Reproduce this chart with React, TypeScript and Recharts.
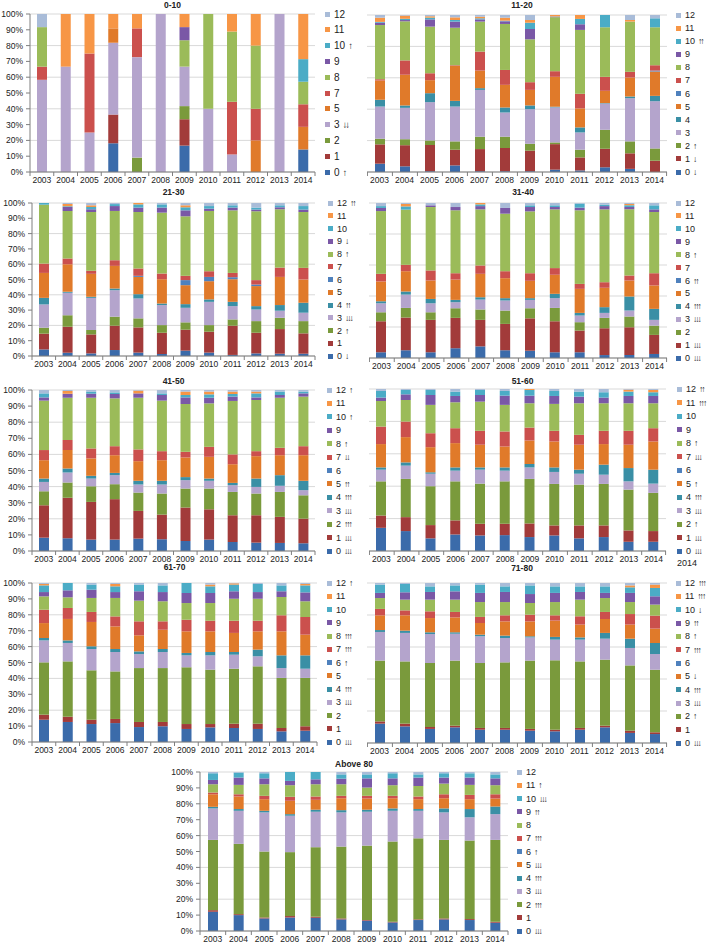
import React from 'react';
import { BarChart, Bar, XAxis, YAxis, CartesianGrid } from 'recharts';

// Years on the x axis
const years = ['2003', '2004', '2005', '2006', '2007', '2008', '2009', '2010', '2011', '2012', '2013', '2014'];

// Categories 0..12, bottom of the stack first
const categoryKeys = ['c0', 'c1', 'c2', 'c3', 'c4', 'c5', 'c6', 'c7', 'c8', 'c9', 'c10', 'c11', 'c12'];
const colors = ['#3B6BAA', '#A23B3A', '#7A9A3C', '#B4A4CC', '#3A8FA5', '#E07A2A', '#4F81BD', '#CB504D', '#9BBB59', '#7A58A6', '#4BACC6', '#F79646', '#A9BCD8'];
const yTicks = [0, 0.1, 0.2, 0.3, 0.4, 0.5, 0.6, 0.7, 0.8, 0.9, 1];

// Share (%) per year, one row per year, columns = categories 0..12
const shares0to10 = [
    [0, 0, 0, 58.3, 0, 0, 0, 8.3, 25, 0, 0, 0, 8.3],
    [0, 0, 0, 66.7, 0, 0, 0, 0, 0, 0, 0, 33.3, 0],
    [0, 0, 0, 25, 0, 0, 0, 50, 0, 0, 0, 25, 0],
    [18.2, 18.2, 0, 45.5, 0, 9.1, 0, 0, 0, 0, 0, 9.1, 0],
    [0, 0, 9.1, 63.6, 0, 0, 0, 18.2, 0, 0, 0, 9.1, 0],
    [0, 0, 0, 100, 0, 0, 0, 0, 0, 0, 0, 0, 0],
    [16.7, 16.7, 8.3, 25, 0, 0, 0, 0, 16.7, 8.3, 0, 8.3, 0],
    [0, 0, 0, 40, 0, 0, 0, 0, 60, 0, 0, 0, 0],
    [0, 0, 0, 11.1, 0, 0, 0, 33.3, 44.4, 0, 0, 11.1, 0],
    [0, 0, 0, 0, 0, 20, 0, 20, 40, 0, 0, 20, 0],
    [0, 0, 0, 100, 0, 0, 0, 0, 0, 0, 0, 0, 0],
    [14.3, 0, 0, 0, 0, 14.3, 0, 14.3, 14.3, 0, 14.3, 28.6, 0],
];

const shares11to20 = [
    [5.3, 12.3, 3.6, 20.5, 4.3, 12.3, 0, 0.8, 34.5, 1.5, 0.5, 2.7, 1.7],
    [3.6, 13.4, 3.8, 19.9, 1.5, 19.5, 0, 9.1, 24.8, 0.8, 0.8, 2.0, 0.4],
    [0.5, 16.7, 2.9, 24.4, 5.7, 8.3, 0, 4.4, 29.7, 4.6, 1.1, 0.9, 0.8],
    [4.2, 10, 5.3, 22.2, 3.6, 22.3, 0, 0.4, 23.9, 3.9, 1.0, 1.7, 1.5],
    [0.5, 14.1, 7.9, 29.8, 1.1, 11.2, 0, 12.1, 19.1, 1.4, 0.7, 1.0, 1.1],
    [0.5, 14.8, 7.2, 15.4, 3.2, 14.4, 0, 9.5, 29.3, 1.7, 0.4, 1.9, 1.7],
    [0.5, 13.1, 4.4, 22, 2.4, 9.9, 0, 4.9, 27.3, 6.6, 4, 1.7, 3.2],
    [1.5, 16.3, 1.1, 22.4, 0.4, 19.1, 0, 3.6, 34.5, 0.3, 0.2, 0.9, 0],
    [1, 8.3, 4.9, 11, 3.2, 12.1, 0, 9.3, 40.7, 3.6, 3.4, 2.5, 0],
    [3, 11.8, 12.1, 16.7, 0.3, 7.8, 0, 8.9, 31.6, 0, 7.8, 0, 0],
    [2, 9.9, 7.6, 27.5, 1.1, 12.1, 0, 3.6, 32, 0, 0, 1, 3.2],
    [0, 7.2, 7.8, 30.1, 3.4, 15.5, 0.6, 3.4, 24.2, 0, 5.7, 0, 2.1],
];

const shares21to30 = [
    [4.3, 10.3, 3.9, 15.2, 4.3, 16.3, 0, 6.1, 38.5, 0, 1.1, 0, 0],
    [2.2, 16.9, 7.6, 14.6, 0.7, 18, 0, 3.7, 31.1, 2.6, 0.5, 1.4, 0.7],
    [1.7, 12.4, 2.9, 21, 0.7, 15, 0, 2, 38.4, 1.8, 1.5, 1.1, 1.5],
    [3.9, 15.9, 5.9, 17.3, 1.1, 14.8, 0, 3.7, 32.2, 3.2, 1.3, 0, 0.7],
    [2.2, 16.5, 5.9, 13, 2.8, 11.3, 0.7, 4.8, 36.9, 2.9, 2.1, 0.9, 0],
    [1.3, 13.9, 5, 13.1, 1, 15.9, 0, 3.7, 39.8, 3.3, 2.1, 0, 0.9],
    [3.5, 13.7, 4.8, 9.5, 2.4, 12.4, 3.3, 2.8, 38.9, 3.9, 2, 1.3, 1.5],
    [2.2, 13.7, 4.3, 15.2, 1.6, 11.9, 2.8, 3.7, 39.4, 1.5, 1.7, 0, 2],
    [0.7, 19.1, 4.1, 8.7, 2.8, 14.8, 1.3, 2.8, 40.9, 1.8, 1.5, 0, 1.5],
    [1.7, 13.5, 7.6, 7.6, 2.2, 13.1, 1, 2.9, 45, 1.1, 1.3, 0, 3],
    [1.5, 16.1, 7.4, 4.6, 3.7, 18.4, 0, 6.1, 38.1, 1.3, 1.3, 0, 1.5],
    [1.5, 13.3, 8, 5.5, 6.5, 15.2, 0, 7.6, 36.5, 1.6, 2.3, 0, 2],
];

const shares31to40 = [
    [3.7, 20, 5.8, 5.8, 1.3, 12.8, 0, 4.9, 40.5, 2, 1.2, 0, 2],
    [5, 21.1, 6.2, 8.6, 2, 13.1, 0, 4.1, 35.6, 0, 2.1, 1.6, 0.6],
    [3.7, 20.9, 4.9, 5.8, 2.8, 11.9, 0, 6.5, 40.9, 1.1, 0, 0, 1.5],
    [6.3, 19.6, 6.2, 3.9, 1.5, 13.1, 0, 4.1, 40.6, 2.1, 0, 0, 2.6],
    [7.5, 17.1, 6.7, 6.4, 1.5, 15.1, 0, 5.4, 36.2, 2.1, 1.1, 0.9, 0],
    [5, 17, 8.6, 6.5, 1.5, 12.9, 0, 4.5, 37.1, 3.7, 0, 0, 3.2],
    [4.7, 20.9, 6.5, 5.4, 1.1, 11.2, 0, 4.9, 39.9, 2.8, 1.1, 0, 1.5],
    [3.7, 20, 8.6, 6.3, 2.8, 12.3, 0, 4.3, 37.9, 1.5, 1.1, 0, 1.5],
    [3.7, 14, 5.4, 4.3, 1.7, 15.5, 0, 3.2, 47.5, 1.7, 2.6, 0, 0.4],
    [1.9, 17.3, 6.7, 3.2, 3.7, 12.5, 0, 3.6, 47, 2.1, 0.9, 0, 1.1],
    [1.9, 17.9, 6.9, 3.9, 9.1, 10.3, 0, 3.2, 42.7, 1.5, 1.1, 0.9, 0.6],
    [2.6, 12.3, 6, 3.7, 7.1, 15.1, 0, 7.9, 39.5, 1.7, 2.6, 0, 1.5],
];

const shares41to50 = [
    [8.3, 20.1, 8.7, 5.8, 2.1, 11.4, 0, 6.3, 30.7, 2, 2.5, 0, 2.1],
    [7.9, 25.1, 9.5, 6.3, 2.4, 11.5, 0, 6.2, 26.3, 2.5, 0, 1.7, 0.6],
    [7.1, 23.4, 9.7, 4.8, 1.7, 10.8, 0, 6.2, 31.5, 2.5, 1.3, 0, 1],
    [7.1, 25.1, 9.3, 5.6, 1.4, 11, 0, 5.6, 29.7, 2.7, 1, 0, 1.5],
    [7.7, 17.2, 11.4, 5, 2.3, 12.2, 0, 7.3, 32.1, 2.7, 0, 1.7, 0.4],
    [7.3, 15.3, 13.1, 5.6, 2.3, 12.8, 0, 5.6, 31.4, 3.5, 1, 0, 2.1],
    [6.2, 20.8, 11.8, 5.2, 1.9, 12.2, 0, 3.5, 29.7, 4.1, 1.5, 2.1, 1],
    [7.1, 18.8, 12.9, 4.8, 1.4, 13.5, 0, 6.2, 27, 3.5, 2.1, 1.7, 1],
    [5.6, 16.6, 14.5, 4.2, 1.4, 11.6, 0, 6.1, 33.2, 2.7, 1.6, 1.5, 1],
    [5.2, 17, 13.5, 4.1, 5.2, 13.9, 0, 3.1, 31.8, 1.6, 2.5, 1.1, 1],
    [5, 16.2, 15.5, 3.8, 6.6, 12.4, 0, 4.6, 31.1, 1.7, 2.1, 0, 1],
    [4.8, 15.3, 14.5, 3.2, 5.8, 15.9, 0, 5.6, 30.8, 2, 1.1, 0, 1],
];

const shares51to60 = [
    [14.3, 7.6, 21.1, 7.2, 1.4, 14.4, 0, 10.8, 15.8, 2.1, 4.1, 0, 1.2],
    [12.3, 8.6, 23.6, 8.2, 2, 15.6, 0, 9.6, 13.3, 3.5, 2.7, 0, 0.6],
    [7.8, 8.2, 24, 7.7, 0.9, 15.5, 0, 8.6, 17.5, 6.1, 3.1, 0, 0.6],
    [10.2, 8.7, 24.1, 6.6, 2, 15, 0, 9.2, 16, 3.9, 2.7, 0, 1.6],
    [9.6, 7.2, 24.8, 8.6, 1.4, 14, 0, 8.6, 18, 4.1, 3.1, 0, 0.6],
    [9.8, 7, 26.2, 6.6, 2, 12.9, 0, 9.3, 16.4, 5.7, 2.9, 0, 1.2],
    [8.6, 8.4, 27.5, 7.1, 2.1, 14.5, 0, 8, 15, 4.7, 3.5, 0.6, 0],
    [9.6, 6.2, 25.6, 7.4, 2.8, 16, 0, 6.6, 16.6, 4.9, 3.1, 0, 1.2],
    [7.8, 8, 25.2, 6.7, 2.5, 15.4, 0, 6.1, 19.5, 4.1, 3.1, 0, 1.6],
    [8.6, 7.2, 25.6, 5.7, 6.2, 12.7, 0, 8.2, 17, 3.5, 3.3, 0, 2],
    [5.7, 7, 25.2, 5.1, 8.2, 14.4, 0, 8.6, 17, 4.5, 2.7, 1.2, 0.4],
    [5.7, 6.6, 23.6, 5.7, 8.6, 17.4, 0, 8.2, 15.4, 4.5, 2.3, 1.4, 0.6],
];

const shares61to70 = [
    [14, 3.2, 32.9, 13.8, 1.5, 9.4, 0, 8.4, 8.4, 2.7, 4.2, 0.9, 0.6],
    [12.6, 3.3, 34.8, 11.6, 1.6, 13.5, 0, 6.9, 6.7, 4.4, 4.6, 0, 0],
    [11.3, 2.7, 31.1, 13.4, 1.7, 15.3, 0, 6.3, 8.8, 5.2, 3.2, 0, 1],
    [11.9, 2.6, 29.9, 12.2, 1.9, 14.2, 0, 6.3, 11.6, 3.7, 3.6, 1.5, 0.6],
    [9.4, 3.2, 33.9, 8.8, 1.7, 10.1, 0, 8.8, 13, 5.9, 4.2, 0, 1],
    [9.9, 2.7, 33.9, 10.1, 1.9, 12.1, 0, 5.3, 12.6, 5.8, 4.2, 0, 1.5],
    [8.2, 3.1, 35.7, 7.5, 1.5, 13.6, 0, 7.3, 10.5, 6.3, 6.3, 0, 0],
    [9.2, 2.1, 34.2, 9, 2.1, 13, 0, 6.7, 11.1, 6.3, 4.2, 1.1, 1],
    [8.8, 2.7, 34.6, 8.8, 1.7, 12, 0, 7.7, 13.8, 4.7, 4.2, 0.8, 0.2],
    [8.2, 3.3, 36.1, 6.3, 4.2, 11.5, 0, 6.7, 13.8, 4.2, 5.1, 0, 0.6],
    [6.7, 2.1, 31.5, 6.2, 8, 15.1, 0, 10.1, 11.5, 3.6, 3.7, 0, 1.5],
    [7.1, 2.8, 30.4, 5.8, 8.4, 13, 0, 11.1, 9.9, 5.6, 4.4, 0.9, 0.6],
];

const shares71to80 = [
    [12.1, 1.4, 38, 17.9, 1.2, 9.2, 0, 4, 6.8, 3.2, 5.2, 0, 1],
    [10.4, 1.7, 38.9, 17.8, 1.4, 9.6, 0, 3.1, 6.7, 4.6, 5.2, 0, 0.6],
    [8.8, 1.2, 40, 18.1, 1.1, 8.9, 0, 4.2, 7.3, 4.8, 3.5, 0, 2.1],
    [9.8, 1, 40.7, 16.8, 0.9, 9.3, 0, 3.4, 7.7, 5.2, 3.7, 0, 1.5],
    [8.3, 1.1, 40.6, 16.7, 1, 7.3, 0, 3.8, 9.3, 5.7, 5.2, 0, 1],
    [8.3, 1.1, 41, 15.2, 1.5, 8.9, 0, 3.8, 8.3, 6.3, 3.5, 0, 2.1],
    [7.7, 1.1, 42.7, 14.5, 0.7, 9.3, 0, 4.2, 7.3, 5.6, 5.4, 0, 1.5],
    [7.3, 1, 43.4, 12.9, 1.7, 10.2, 0, 3.3, 8.3, 5.7, 4.1, 0, 2.1],
    [8.3, 1.1, 41.6, 13.6, 1.4, 8, 0, 5.2, 10.4, 4.8, 3.5, 0, 2.1],
    [9.8, 1, 41.3, 13.1, 3.6, 8.7, 0, 4.4, 8.7, 3.2, 4.1, 0, 2.1],
    [6.3, 1.4, 40.8, 10.9, 5.8, 8.8, 0, 6.6, 7.5, 5.7, 3.5, 1.2, 1.5],
    [5.6, 1.1, 39.1, 9.8, 6.9, 9, 0, 8.1, 6.9, 5.2, 5.2, 2.1, 1],
];

const sharesAbove80 = [
    [12.1, 1, 44.2, 19.8, 1, 7.9, 0, 1.1, 5.2, 2.7, 4.2, 0, 0.8],
    [10, 0.6, 44.2, 20.8, 1.1, 7.9, 0, 1.4, 5.9, 4.6, 3.1, 0, 0.4],
    [7.9, 0.6, 41.5, 24.6, 1, 7.3, 0, 2.1, 7.3, 3.7, 3.2, 0, 0.8],
    [8.5, 0.9, 40.2, 22.9, 1, 8.4, 0, 2.5, 7.3, 2.7, 5.6, 0, 0],
    [8.3, 0.7, 43.7, 22.3, 1.3, 6.2, 0, 2.1, 7.7, 3.1, 4.6, 0, 0],
    [7.3, 0.6, 45.2, 21.5, 1.4, 7.5, 0, 1.5, 7.3, 3.5, 2.7, 0, 1.5],
    [6.5, 0.4, 46.8, 21.3, 1.3, 7, 0, 1.7, 5.2, 5.8, 2.5, 0, 1.5],
    [5.4, 0.4, 50.5, 19.3, 1.5, 6.4, 0, 1.5, 6.7, 4.3, 3.2, 0, 0.8],
    [6.9, 0.4, 51, 17.3, 1.1, 6.2, 0, 1.7, 6.6, 5.3, 2, 0, 1.5],
    [7.3, 0.6, 49.4, 17.3, 2.5, 6.4, 0, 2.5, 6.7, 3.8, 2.7, 0, 0.8],
    [6.9, 0.6, 49.4, 14.6, 5.2, 6.2, 0, 2.7, 6.3, 4.6, 2.7, 0, 0.8],
    [5.2, 0.6, 51.5, 16.2, 4.8, 5, 0, 2.7, 5.7, 4.3, 2.5, 0, 1.5],
];

// Legend labels per panel, indexed by category 0..12 (null = not in legend)
const legend0to10 = ['0 ↑', '1', '2', '3 ↓↓', null, '5', null, '7', '8', '9', '10 ↑', '11', '12'];
const legend11to20 = ['0 ↓', '1 ↓', '2 ↑', '3', '4', '5', '6', '7', '8', '9', '10 ↑↑', '11', '12'];
const legend21to30 = ['0 ↓', '1', '2 ↑', '3 ↓↓↓', '4 ↑↑', '5', '6', '7', '8 ↑', '9 ↓', '10', '11', '12 ↑↑'];
const legend31to40 = ['0 ↓↓↓', '1 ↓↓↓', '2', '3 ↓↓↓', '4 ↑↑↑', '5', '6 ↑↑', '7', '8 ↑', '9', '10', '11', '12'];
const legend41to50 = ['0 ↓↓↓', '1 ↓↓↓', '2 ↑↑↑', '3 ↓↓↓', '4 ↑↑↑', '5 ↑↑', '6', '7 ↓↓', '8 ↑', '9', '10 ↑', '11', '12 ↑'];
const legend51to60 = ['0 ↓↓↓', '1 ↓↓↓', '2 ↑', '3 ↓↓↓', '4 ↑↑↑', '5 ↑', '6', '7 ↓↓↓', '8 ↑', '9', '10', '11 ↑↑↑', '12 ↑↑'];
const legend61to70 = ['0 ↓↓↓', '1', '2', '3 ↓↓↓', '4 ↑↑↑', '5', '6 ↑', '7 ↑↑↑', '8 ↑↑↑', '9', '10', '11', '12 ↑'];
const legend71to80 = ['0 ↓↓↓', '1', '2 ↑', '3 ↓↓↓', '4 ↑↑↑', '5 ↓', '6', '7 ↑↑↑', '8 ↑', '9 ↑↑', '10 ↓', '11 ↑↑↑', '12 ↑↑↑'];
const legendAbove80 = ['0 ↓↓↓', '1', '2 ↑↑↑', '3 ↓↓↓', '4 ↑↑↑', '5 ↓↓↓', '6 ↑', '7 ↑↑↑', '8', '9 ↑↑', '10 ↓↓↓', '11 ↑', '12'];

const font = '"Liberation Sans", Arial, sans-serif';
const axisColor = '#7f7f7f';

const toRows = (shares: number[][]) =>
    years.map((year, i) => {
        const row: Record<string, number | string> = { year };
        shares[i].forEach((v, k) => {
            row[categoryKeys[k]] = v;
        });
        return row;
    });

interface PanelProps {
    title: string;
    shares: number[][];
    legend: (string | null)[];
    x0: number;
    x1: number;
    y0: number;
    y1: number;
    titleY: number;
    legendX: number;
    showYAxis: boolean;
    legendFont?: number;
}

// "10 ↑↑" -> number part and tightly spaced arrows
const LegendLabel: React.FC<{ label: string }> = ({ label }) => {
    const [num, arrows] = label.split(' ');
    return (
        <>
            {num}
            {arrows && <span style={{ marginLeft: 3, letterSpacing: '-2px', fontSize: '0.95em' }}>{arrows}</span>}
        </>
    );
};

const Panel: React.FC<PanelProps> = ({ title, shares, legend, x0, x1, y0, y1, titleY, legendX, showYAxis, legendFont = 9 }) => {
    const data = toRows(shares);
    const axisW = showYAxis ? x0 : 10;
    const left = x0 - axisW;
    const plotW = x1 - x0;
    const plotH = y1 - y0;
    const band = plotW / years.length;
    const items = legend
        .map((label, k) => ({ label, k }))
        .filter((d) => d.label !== null)
        .reverse();
    const step = plotH / (items.length - 1);

    // year label with Excel-like tick marks between categories
    const renderYearTick = (props: any) => {
        const { x, y, payload, index } = props;
        return (
            <g>
                <line x1={x - band / 2} x2={x - band / 2} y1={y} y2={y + 4} stroke={axisColor} />
                {index === years.length - 1 && <line x1={x + band / 2} x2={x + band / 2} y1={y} y2={y + 4} stroke={axisColor} />}
                <text x={x} y={y + 10.5} textAnchor="middle" fontSize={8.5} fill="#222" fontFamily={font}>
                    {payload.value}
                </text>
            </g>
        );
    };

    return (
        <>
            <div
                style={{
                    position: 'absolute',
                    left: x0,
                    width: plotW,
                    top: titleY - 6,
                    lineHeight: '12px',
                    textAlign: 'center',
                    fontWeight: 'bold',
                    fontSize: 8.5,
                    color: '#222',
                }}
            >
                {title}
            </div>
            <div style={{ position: 'absolute', left, top: y0 - 5 }}>
                <BarChart
                    width={axisW + plotW + 5}
                    height={plotH + 25}
                    data={data}
                    stackOffset="expand"
                    margin={{ top: 5, right: 5, bottom: 0, left: 0 }}
                    barSize={10}
                >
                    <CartesianGrid vertical={false} stroke="#d9d9d9" />
                    <XAxis
                        dataKey="year"
                        height={20}
                        interval={0}
                        tickLine={false}
                        tickSize={0}
                        tickMargin={0}
                        axisLine={{ stroke: axisColor }}
                        tick={renderYearTick}
                    />
                    <YAxis
                        width={axisW}
                        domain={[0, 1]}
                        ticks={yTicks}
                        hide={!showYAxis}
                        tickFormatter={(v: number) => `${Math.round(v * 100)}%`}
                        tick={{ fontSize: 8.5, fill: '#222' }}
                        tickSize={4}
                        tickMargin={3}
                        axisLine={{ stroke: axisColor }}
                        tickLine={{ stroke: axisColor }}
                    />
                    {categoryKeys.map((key, k) => (
                        <Bar key={key} dataKey={key} stackId="share" fill={colors[k]} isAnimationActive={false} />
                    ))}
                </BarChart>
            </div>
            {items.map((it, j) => (
                <div
                    key={it.k}
                    style={{
                        position: 'absolute',
                        left: legendX,
                        top: y0 + j * step - 6,
                        height: 12,
                        display: 'flex',
                        alignItems: 'center',
                        fontSize: legendFont,
                        color: '#222',
                        whiteSpace: 'nowrap',
                    }}
                >
                    <span style={{ display: 'inline-block', width: 5, height: 5, background: colors[it.k], marginRight: 4 }} />
                    <LegendLabel label={it.label as string} />
                </div>
            ))}
        </>
    );
};

const App: React.FC = () => {
    return (
        <div
            style={{
                position: 'absolute',
                left: 0,
                top: 0,
                width: 708,
                height: 945,
                overflow: 'hidden',
                background: '#fff',
                fontFamily: font,
            }}
        >
            <Panel title="0-10" shares={shares0to10} legend={legend0to10} x0={30} x1={315} y0={14} y1={172} titleY={5} legendX={325} showYAxis legendFont={10} />
            <Panel title="11-20" shares={shares11to20} legend={legend11to20} x0={377} x1={667} y0={15} y1={172} titleY={5} legendX={676} showYAxis={false} />
            <Panel title="21-30" shares={shares21to30} legend={legend21to30} x0={32} x1={315} y0={203} y1={356} titleY={192} legendX={328} showYAxis />
            <Panel title="31-40" shares={shares31to40} legend={legend31to40} x0={379} x1={667} y0={203} y1={358} titleY={192} legendX={676} showYAxis={false} />
            <Panel title="41-50" shares={shares41to50} legend={legend41to50} x0={32} x1={315} y0={390} y1={551} titleY={381} legendX={327} showYAxis />
            <Panel title="51-60" shares={shares51to60} legend={legend51to60} x0={379} x1={666} y0={389} y1={551} titleY={381} legendX={677} showYAxis={false} />
            <Panel title="61-70" shares={shares61to70} legend={legend61to70} x0={32} x1={317} y0={583} y1={742} titleY={567} legendX={327} showYAxis />
            <Panel title="71-80" shares={shares71to80} legend={legend71to80} x0={377} x1={667} y0={583} y1={743} titleY={568} legendX={676} showYAxis={false} />
            <Panel title="Above 80" shares={sharesAbove80} legend={legendAbove80} x0={200} x1={508} y0={772} y1={931} titleY={764} legendX={517} showYAxis />
            <div style={{ position: 'absolute', left: 677, top: 558, fontSize: 9, color: '#222' }}>2014</div>
        </div>
    );
};

export default App;
